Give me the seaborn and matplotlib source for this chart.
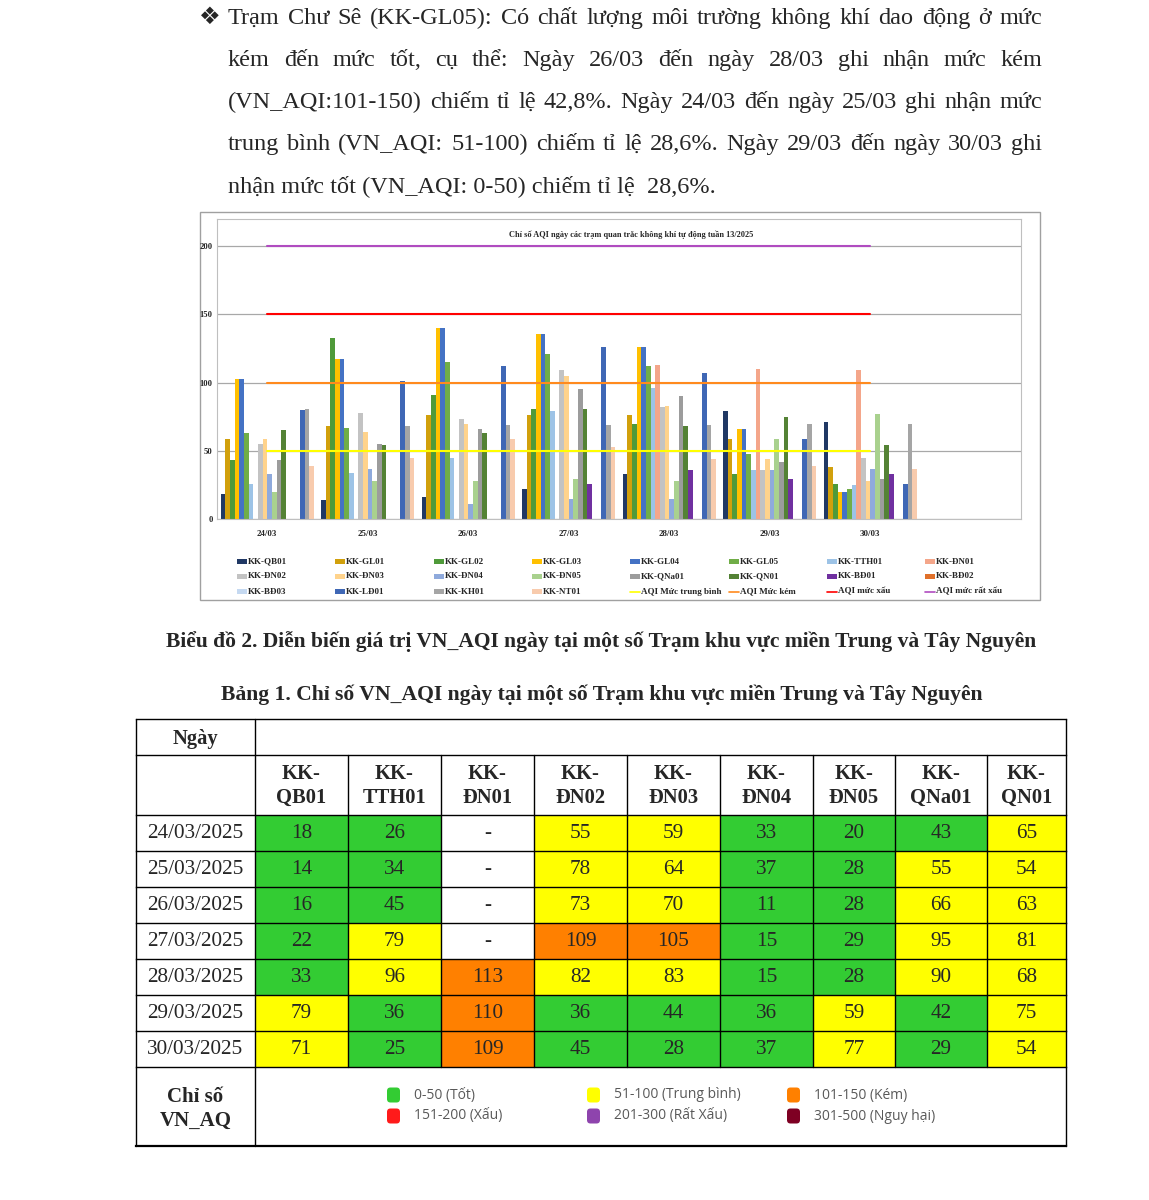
"""
Trang báo cáo VN_AQI ngày tuần 13/2025 - miền Trung và Tây Nguyên
"""
import numpy as np
import pandas as pd
import matplotlib
matplotlib.use("Agg")
import matplotlib.pyplot as plt
import seaborn as sns
from matplotlib.patches import Rectangle, FancyBboxPatch
from matplotlib.lines import Line2D

nan = np.nan

# ---------------- Données ----------------
days = ['24/03', '25/03', '26/03', '27/03', '28/03', '29/03', '30/03']
dates = ['24/03/2025', '25/03/2025', '26/03/2025', '27/03/2025',
         '28/03/2025', '29/03/2025', '30/03/2025']

qb01 = [18, 14, 16, 22, 33, 79, 71]
gl01 = [59, 68, 76, 76, 76, 59, 38]
gl02 = [43, 133, 91, 81, 70, 33, 26]
gl03 = [103, 117, 140, 136, 126, 66, 20]
gl04 = [103, 117, 140, 136, 126, 66, 20]
gl05 = [63, 67, 115, 121, 112, 48, 22]
tth01 = [26, 34, 45, 79, 96, 36, 25]
dn01 = [nan, nan, nan, nan, 113, 110, 109]
dn02 = [55, 78, 73, 109, 82, 36, 45]
dn03 = [59, 64, 70, 105, 83, 44, 28]
dn04 = [33, 37, 11, 15, 15, 36, 37]
dn05 = [20, 28, 28, 29, 28, 59, 77]
qna01 = [43, 55, 66, 95, 90, 42, 29]
qn01 = [65, 54, 63, 81, 68, 75, 54]
bd01 = [nan, nan, nan, 26, 36, 29, 33]
bd02 = [nan, nan, nan, nan, nan, nan, nan]
bd03 = [nan, nan, nan, nan, nan, nan, nan]
ld01 = [80, 101, 112, 126, 107, 59, 26]
kh01 = [81, 68, 69, 69, 69, 70, 70]
nt01 = [39, 45, 59, 53, 44, 39, 37]

stations = ['KK-QB01', 'KK-GL01', 'KK-GL02', 'KK-GL03', 'KK-GL04', 'KK-GL05',
            'KK-TTH01', 'KK-ĐN01', 'KK-ĐN02', 'KK-ĐN03', 'KK-ĐN04', 'KK-ĐN05',
            'KK-QNa01', 'KK-QN01', 'KK-BĐ01', 'KK-BĐ02', 'KK-BĐ03', 'KK-LĐ01',
            'KK-KH01', 'KK-NT01']
series = [qb01, gl01, gl02, gl03, gl04, gl05, tth01, dn01, dn02, dn03, dn04,
          dn05, qna01, qn01, bd01, bd02, bd03, ld01, kh01, nt01]
station_colors = ['#203864', '#D1A00C', '#4F9A3A', '#FFC000', '#4472C4',
                  '#70AD47', '#9DC3E6', '#F4A68A', '#C3C3C3', '#FFD38C',
                  '#8FAADC', '#A9D18E', '#9C9C9C', '#548235', '#7030A0',
                  '#E0702A', '#C5D9F1', '#3F67B5', '#A5A5A5', '#F8CBAD']

line_labels = ['AQI Mức trung bình', 'AQI Mức kém', 'AQI mức xấu', 'AQI mức rất xấu']
line_values = [50, 100, 150, 200]
line_colors = ['#FFFF00', '#FF8A1E', '#FF0000', '#B04CC0']

# bảng 1
table_stations = ['KK-\nQB01', 'KK-\nTTH01', 'KK-\nĐN01', 'KK-\nĐN02', 'KK-\nĐN03',
                  'KK-\nĐN04', 'KK-\nĐN05', 'KK-\nQNa01', 'KK-\nQN01']
table_series = [qb01, tth01, dn01, dn02, dn03, dn04, dn05, qna01, qn01]

aqi_levels = ['0-50 (Tốt)', '51-100 (Trung bình)', '101-150 (Kém)',
              '151-200 (Xấu)', '201-300 (Rất Xấu)', '301-500 (Nguy hại)']
aqi_bounds = [50, 100, 150, 200, 300]
aqi_colors = ['#33CC33', '#FFFF00', '#FF8000', '#FF1A1A', '#8E44AD', '#7E0023']

para_lines = [
    'Trạm Chư Sê (KK-GL05): Có chất lượng môi trường không khí dao động ở mức',
    'kém đến mức tốt, cụ thể: Ngày 26/03 đến ngày 28/03 ghi nhận mức kém',
    '(VN_AQI:101-150) chiếm tỉ lệ 42,8%. Ngày 24/03 đến ngày 25/03 ghi nhận mức',
    'trung bình (VN_AQI: 51-100) chiếm tỉ lệ 28,6%. Ngày 29/03 đến ngày 30/03 ghi',
    'nhận mức tốt (VN_AQI: 0-50) chiếm tỉ lệ  28,6%.',
]
chart_title = 'Chỉ số AQI ngày các trạm quan trắc không khí tự động tuần 13/2025'
caption = ('Biểu đồ 2. Diễn biến giá trị VN_AQI ngày tại một số Trạm khu vực '
           'miền Trung và Tây Nguyên')
table_title = 'Bảng 1. Chỉ số VN_AQI ngày tại một số Trạm khu vực miền Trung và Tây Nguyên'

# ---------------- Mise en page (pixels) ----------------
W, H = 1149, 1200
SERIF = ['Liberation Serif', 'DejaVu Serif']

sns.set_theme(style='white')
plt.rcParams['font.family'] = SERIF

fig = plt.figure(figsize=(W / 100, H / 100), dpi=100)
ov = fig.add_axes([0, 0, 1, 1])
ov.set_xlim(0, W)
ov.set_ylim(H, 0)
ov.axis('off')
renderer = fig.canvas.get_renderer()


def fit(t, width):
    w = t.get_window_extent(renderer).width
    t.set_fontsize(t.get_fontsize() * width / w)


# --- paragraphe justifié ---
last = ov.text(228, 192, para_lines[-1], fontsize=15, va='baseline', ha='left')
fit(last, 488)
fs_para = last.get_fontsize()
ov.text(199, 24, '❖', fontsize=fs_para * 1.0, va='baseline', ha='left',
        family=['DejaVu Sans'])
for i, line in enumerate(para_lines[:-1]):
    y = 24 + 42 * i
    words = line.split(' ')
    texts = [ov.text(0, y, w, fontsize=fs_para, va='baseline', ha='left') for w in words]
    widths = [t.get_window_extent(renderer).width for t in texts]
    gap = (1042 - 228 - sum(widths)) / (len(words) - 1)
    x = 228
    for t, w in zip(texts, widths):
        t.set_x(x)
        x += w + gap

# --- cadre du graphique ---
ov.add_patch(Rectangle((200, 212), 840, 388, facecolor='white',
                       edgecolor='#A0A0A0', lw=1.0, zorder=0))
ttl = ov.text(631, 235, chart_title, ha='center', va='center', fontsize=6.6,
              fontweight='bold')
fit(ttl, 240)

ax = fig.add_axes([217 / W, 1 - 519 / H, 804 / W, 300 / H], zorder=2)
ax.patch.set_alpha(0)

df = pd.DataFrame([
    {'day': d, 'station': s, 'aqi': v}
    for s, vals in zip(stations, series) for d, v in zip(days, vals)
])
palette = dict(zip(stations, station_colors))
sns.barplot(data=df, x='day', y='aqi', hue='station', order=days,
            hue_order=stations, palette=palette, width=0.93, gap=0,
            saturation=1, errorbar=None, linewidth=0, legend=False, ax=ax)

for v, c in zip(line_values, line_colors):
    ax.plot(range(len(days)), [v] * len(days), color=c, lw=1.5, zorder=4)

ax.set_xlim(-0.5, len(days) + 0.5)
ax.set_ylim(0, 220)
ax.set_yticks([0, 50, 100, 150, 200])
ax.set_xticks(range(len(days)))
ax.set_xticklabels(days)
ax.set_xticks(np.arange(-0.5, len(days) + 1), minor=True)
ax.set_xlabel('')
ax.set_ylabel('')
ax.yaxis.grid(True, color='#A8A8A8', lw=0.9)
ax.set_axisbelow(True)
ax.tick_params(axis='y', length=0, pad=3, labelsize=6.2)
ax.tick_params(axis='x', which='major', length=0, pad=8, labelsize=6.4)
ax.tick_params(axis='x', which='minor', length=3, color='#A8A8A8', width=0.8)
plt.setp(ax.get_xticklabels() + ax.get_yticklabels(), fontweight='bold')
for sp in ax.spines.values():
    sp.set_color('#BFBFBF')
    sp.set_linewidth(0.8)

# --- légende du graphique ---
entries = [(s, c, 'bar') for s, c in zip(stations, station_colors)]
entries += [(l, c, 'line') for l, c in zip(line_labels, line_colors)]
for i, (label, color, kind) in enumerate(entries):
    r, c = divmod(i, 8)
    x = 237 + 98.3 * c
    y = 561.5 + 15 * r
    if kind == 'bar':
        ov.add_patch(Rectangle((x, y - 2.5), 10, 5, facecolor=color, lw=0))
    else:
        ov.add_line(Line2D([x, x + 10], [y, y], color=color, lw=1.2))
    ov.text(x + 11, y, label, va='center', ha='left', fontsize=6.5,
            fontweight='bold')

# --- légendes texte ---
cap = ov.text(601.5, 647, caption, ha='center', va='baseline', fontsize=15,
              fontweight='bold')
fit(cap, 873)
tt = ov.text(602, 700, table_title, ha='center', va='baseline', fontsize=15,
             fontweight='bold')
fit(tt, 764)

# --- tableau ---
col_edges = [136, 255, 348, 441, 534, 627, 720, 813, 895, 987, 1066]
row_edges = [719, 755, 815, 851, 887, 923, 959, 995, 1031, 1067, 1146]


def level_color(v):
    if np.isnan(v):
        return 'white'
    return aqi_colors[int(np.digitize(v - 0.5, aqi_bounds))]


fs_cell = 15.3
for i, d in enumerate(dates):
    y0, y1 = row_edges[i + 2], row_edges[i + 3]
    ov.text((col_edges[0] + col_edges[1]) / 2, (y0 + y1) / 2 + 1, d,
            ha='center', va='center', fontsize=fs_cell)
    for j, vals in enumerate(table_series):
        v = vals[i]
        x0, x1 = col_edges[j + 1], col_edges[j + 2]
        ov.add_patch(Rectangle((x0, y0), x1 - x0, y1 - y0,
                               facecolor=level_color(v), lw=0))
        txt = '-' if np.isnan(v) else f'{v:.0f}'
        ov.text((x0 + x1) / 2, (y0 + y1) / 2 + 1, txt, ha='center',
                va='center', fontsize=fs_cell)

for j, s in enumerate(table_stations):
    x0, x1 = col_edges[j + 1], col_edges[j + 2]
    ov.text((x0 + x1) / 2, (row_edges[1] + row_edges[2]) / 2 + 1, s,
            ha='center', va='center', fontsize=14.8, fontweight='bold',
            linespacing=1.3)

ov.text((col_edges[0] + col_edges[1]) / 2, 744, 'Ngày', ha='center',
        va='baseline', fontsize=14.8, fontweight='bold')
ov.text((col_edges[0] + col_edges[1]) / 2, 1102, 'Chỉ số', ha='center',
        va='baseline', fontsize=15, fontweight='bold')
ov.text((col_edges[0] + col_edges[1]) / 2, 1126, 'VN_AQ', ha='center',
        va='baseline', fontsize=15, fontweight='bold')

# grille
for k, y in enumerate(row_edges):
    lw = 1.6 if k == len(row_edges) - 1 else 1.0
    ov.plot([col_edges[0], col_edges[-1]], [y, y], color='black', lw=lw,
            solid_capstyle='projecting')
for k, x in enumerate(col_edges):
    if k in (0, 1, len(col_edges) - 1):
        ov.plot([x, x], [row_edges[0], row_edges[-1]], color='black', lw=1.0)
    else:
        ov.plot([x, x], [row_edges[1], row_edges[-2]], color='black', lw=1.0)

# légende AQI du tableau
leg_texts = []
for k, (lab, col) in enumerate(zip(aqi_levels, aqi_colors)):
    r, c = divmod(k, 3)
    x = 387 + 200 * c
    y = 1095 + 21 * r
    ov.add_patch(FancyBboxPatch((x, y - 7.5), 13, 15,
                                boxstyle='round,pad=0,rounding_size=3.5',
                                facecolor=col, lw=0))
    leg_texts.append(ov.text(x + 27, y, lab, ha='left', va='center', fontsize=8.5,
                             family=['Open Sans', 'DejaVu Sans'], color='#595959'))
fit(leg_texts[-1], 120)
for t in leg_texts:
    t.set_fontsize(leg_texts[-1].get_fontsize())

fig.savefig('out.png', dpi=100)
plt.close(fig)
